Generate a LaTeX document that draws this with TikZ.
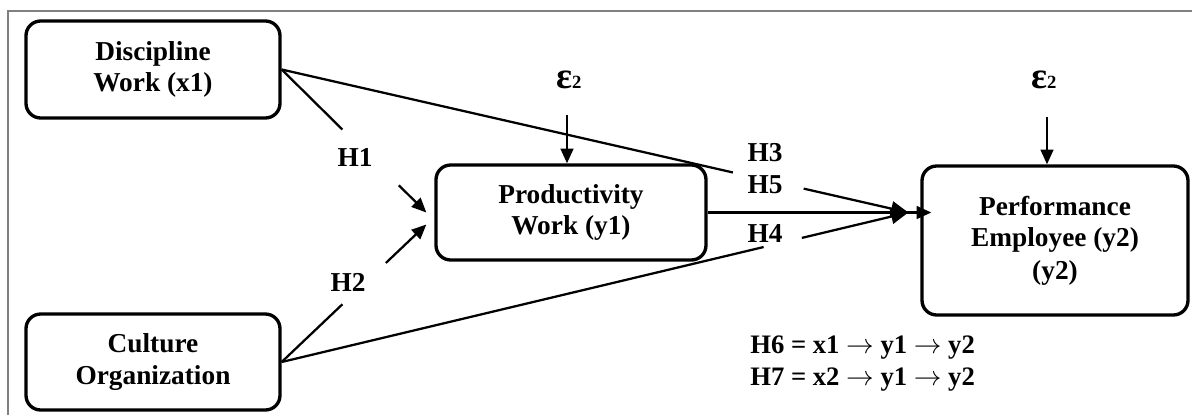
\documentclass[tikz,border=0pt]{standalone}
\usepackage{fontspec}
\setmainfont{Liberation Serif}
\usetikzlibrary{arrows.meta,calc}
\begin{document}
\begin{tikzpicture}[x=0.75pt,y=-0.75pt,
  box/.style={draw,line width=2.5pt,rounded corners=11pt,align=center,
    font=\bfseries\fontsize{20.5}{23.5}\selectfont,inner sep=0pt},
  lbl/.style={font=\bfseries\fontsize{20.5}{24}\selectfont,inner sep=0pt},
  hyp/.style={font=\bfseries\fontsize{20}{24}\selectfont,inner sep=0pt,anchor=west},
  eps/.style={font=\bfseries,inner sep=0pt,anchor=west},
  conn/.style={line width=1.7pt},
  arr/.style={conn,-{Triangle[length=11pt,width=9.5pt]}},
  bigarr/.style={conn,-{Triangle[length=13pt,width=11pt]}},
  frameline/.style={draw=gray,line width=1.1pt}]
\useasboundingbox (0,0) rectangle (1192,415);
\draw[frameline] (8,415) -- (8,11) -- (1192,11);

% boxes
\node[box,minimum width=190.5pt,minimum height=72.75pt] (d) at (153,69.5) {Discipline\\Work (x1)};
\node[box,minimum width=190.5pt,minimum height=72pt] (c) at (153,362) {Culture\\Organization};
\node[box,minimum width=202.5pt,minimum height=71.25pt] (p) at (571,212.5) {Productivity\\Work (y1)};
\node[box,minimum width=199.5pt,minimum height=111.75pt] (q) at (1055,240.5) {Performance\\Employee (y2)\\[1pt](y2)};

% error terms
\node[eps] (e1) at (556,80) {{\fontsize{28}{28}\selectfont ε}{\fontsize{14}{14}\selectfont 2}};
\node[eps] (e2) at (1031,80) {{\fontsize{28}{28}\selectfont ε}{\fontsize{14}{14}\selectfont 2}};
\coordinate (a1s) at (567,115);
\coordinate (a2s) at (1047,117);
\draw[arr] (a1s) -- (a1s |- p.north);
\draw[arr] (a2s) -- (a2s |- q.north);

% H1, H2
\coordinate (h1e) at ($(p.west)+(-8,0)$);
\coordinate (h2e) at ($(p.west)+(-8,12)$);
\draw[conn] (d.east) -- ($(d.east)!0.42!(h1e)$);
\draw[arr] ($(d.east)!0.81!(h1e)$) -- (h1e);
\draw[conn] (c.east) -- ($(c.east)!0.42!(h2e)$);
\draw[arr] ($(c.east)!0.72!(h2e)$) -- (h2e);
\node[lbl] (H1) at (355,157) {H1};
\node[lbl] (H2) at (348,282) {H2};

% paths to performance
\coordinate (cv) at ($(p.east -| q.west)+(-12,0)$);
\draw[conn] (d.east) -- ($(d.east)!0.72!(cv)$);
\draw[bigarr] ($(d.east)!0.833!(cv)$) -- (cv);
\draw[conn] (c.east) -- ($(c.east)!0.769!(cv)$);
\draw[bigarr] ($(c.east)!0.83!(cv)$) -- (cv);
\draw[arr] (p.east) -- ($(p.east -| q.west)+(11,0)$);
\node[lbl] (H3) at (765,153) {H3};
\node[lbl] (H5) at (765,185) {H5};
\node[lbl] (H4) at (765,233) {H4};

% indirect hypotheses
\node[hyp] (H6) at (750,348) {H6 = x1 $\rightarrow$ y1 $\rightarrow$ y2};
\node[hyp] (H7) at (750,380) {H7 = x2 $\rightarrow$ y1 $\rightarrow$ y2};
\end{tikzpicture}
\end{document}
